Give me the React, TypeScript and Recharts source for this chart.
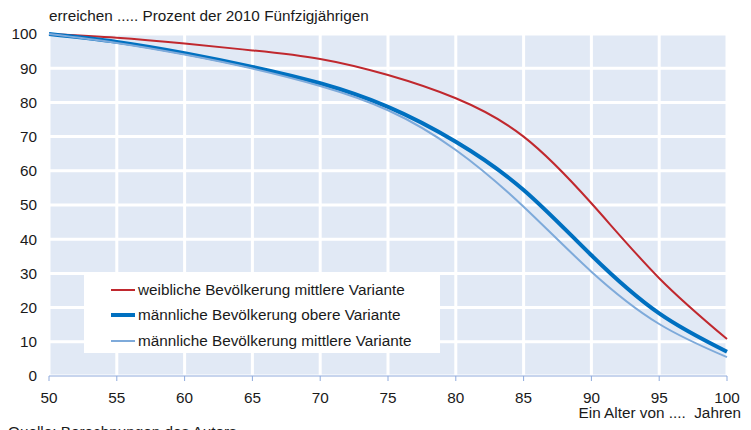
import React from "react";
import { LineChart, Line, XAxis, YAxis, CartesianGrid } from "recharts";

const ALTER = [50, 55, 60, 65, 70, 75, 80, 85, 90, 95, 100];
const WEIBLICH_MITTEL = [100, 98.9, 97.2, 95.2, 92.7, 88.0, 81.2, 70.0, 50.5, 28.6, 10.8];
const MAENNLICH_OBERE = [100, 97.7, 94.4, 90.4, 85.6, 78.7, 68.5, 54.4, 35.3, 18.3, 7.1];
const MAENNLICH_MITTEL = [100, 97.4, 94.0, 89.9, 84.8, 77.7, 66.1, 49.5, 30.5, 15.2, 5.5];

const X_TICKS = [50, 55, 60, 65, 70, 75, 80, 85, 90, 95, 100];
const Y_TICKS = [0, 10, 20, 30, 40, 50, 60, 70, 80, 90, 100];

const SERIES = [
  { key: "w", name: "weibliche Bevölkerung mittlere Variante", color: "#C0282E", width: 2 },
  { key: "mo", name: "männliche Bevölkerung obere Variante", color: "#0070C0", width: 4 },
  { key: "mm", name: "männliche Bevölkerung mittlere Variante", color: "#7EAADA", width: 2 },
];

const data = ALTER.map((a, i) => ({
  alter: a,
  w: WEIBLICH_MITTEL[i],
  mo: MAENNLICH_OBERE[i],
  mm: MAENNLICH_MITTEL[i],
}));

const FONT = "'Liberation Sans', Arial, sans-serif";
const FS = 15.3;
const AXIS_BLUE = "#8FAADC";

export default function App() {
  return (
    <div style={{ position: "absolute", left: 0, top: 0, width: 751, height: 430, background: "#fff", fontFamily: FONT, overflow: "hidden" }}>
      <LineChart width={751} height={430} data={data} margin={{ top: 34, right: 24, left: 0, bottom: 24 }}>
        <CartesianGrid stroke="#FFFFFF" strokeWidth={3} fill="#E1E9F5" />
        <XAxis
          dataKey="alter"
          type="number"
          domain={[50, 100]}
          ticks={X_TICKS}
          interval={0}
          height={30}
          axisLine={{ stroke: AXIS_BLUE, strokeWidth: 1 }}
          tickLine={{ stroke: AXIS_BLUE }}
          tickSize={5}
          tickMargin={11}
          tick={{ fill: "#1a1a1a", fontSize: FS, fontFamily: FONT }}
        />
        <YAxis
          type="number"
          domain={[0, 100]}
          ticks={Y_TICKS}
          interval={0}
          width={49}
          axisLine={false}
          tickLine={false}
          tickSize={0}
          tickMargin={12}
          tick={{ fill: "#1a1a1a", fontSize: FS, fontFamily: FONT }}
        />
        {SERIES.map((s) => (
          <Line
            key={s.key}
            dataKey={s.key}
            name={s.name}
            type="natural"
            stroke={s.color}
            strokeWidth={s.width}
            dot={false}
            activeDot={false}
            isAnimationActive={false}
          />
        ))}
      </LineChart>

      <svg width={751} height={440} style={{ position: "absolute", left: 0, top: 0, pointerEvents: "none" }}>
        <text x={49} y={21} fontSize={FS} fill="#1a1a1a" fontFamily={FONT}>
          erreichen ..... Prozent der 2010 Fünfzigjährigen
        </text>
        <text x={741} y={418} fontSize={FS} fill="#1a1a1a" fontFamily={FONT} textAnchor="end" style={{ whiteSpace: "pre" }}>
          {"Ein Alter von ....  Jahren"}
        </text>
        <text x={8} y={437} fontSize={FS} fill="#1a1a1a" fontFamily={FONT}>
          Quelle: Berechnungen des Autors
        </text>
      </svg>

      <div
        style={{
          position: "absolute",
          left: 84,
          top: 275,
          width: 356,
          height: 78,
          background: "#fff",
          boxSizing: "border-box",
          paddingTop: 2,
        }}
      >
        {SERIES.map((s) => (
          <div key={s.key} style={{ display: "flex", alignItems: "center", height: 25.5, marginLeft: 27 }}>
            <div style={{ width: 24, height: s.width === 4 ? 4 : 2, background: s.color, marginRight: 3 }} />
            <span style={{ fontSize: FS, color: "#1a1a1a", whiteSpace: "nowrap" }}>{s.name}</span>
          </div>
        ))}
      </div>
    </div>
  );
}
